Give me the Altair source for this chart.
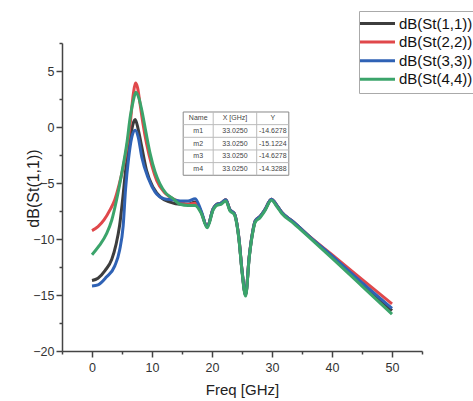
import altair as alt
import pandas as pd

# ---------------- data ----------------
series_names = ["dB(St(1,1))", "dB(St(2,2))", "dB(St(3,3))", "dB(St(4,4))"]
series_colors = ["#3d3d3d", "#e0484b", "#2f62b5", "#3ba46b"]

s11_x = [0.0, 1.0, 2.2, 3.3, 4.0, 4.6, 5.1, 5.6, 6.3, 6.8, 7.2, 7.7, 8.3, 9.1, 10.2, 11.5, 13.0, 14.7,
         16.0, 17.2, 18.2, 19.2, 20.2, 20.8, 21.5, 22.3, 23.0, 23.7, 24.5, 25.0, 25.6, 26.2, 26.8, 27.2,
         28.0, 28.8, 29.9, 30.8, 31.6, 33.6, 36.3, 40.0, 45.0, 50.0]
s11_y = [-13.7, -13.5, -12.8, -11.8, -10.5, -8.8, -6.5, -3.9, -1.3, 0.2, 0.66, -0.2, -1.8, -3.9, -5.4, -6.3, -6.7, -6.9,
         -6.9, -6.7, -7.6, -8.9, -7.3, -6.9, -6.8, -6.5, -7.4, -7.7, -10.0, -12.8, -15.0, -11.6, -9.3, -8.4,
         -8.0, -7.4, -6.45, -7.0, -7.6, -8.5, -9.8, -11.6, -14.0, -16.4]

s22_x = [0.0, 1.0, 2.0, 3.0, 3.8, 4.5, 5.2, 5.8, 6.3, 6.9, 7.25, 7.6, 8.0, 8.5, 9.1, 10.0, 10.8, 12.0, 13.0, 14.7,
         16.0, 17.2, 18.2, 19.2, 20.2, 20.8, 21.5, 22.3, 23.0, 23.7, 24.5, 25.0, 25.6, 26.2, 26.8, 27.2,
         28.0, 28.8, 29.9, 30.8, 31.6, 33.6, 36.3, 40.0, 45.0, 50.0]
s22_y = [-9.25, -8.9, -8.3, -7.4, -6.5, -5.2, -3.6, -1.8, 0.0, 3.0, 3.93, 3.5, 2.1, 0.3, -1.5, -3.5, -4.8, -5.8, -6.25, -6.7,
         -6.9, -6.8, -7.6, -8.9, -7.3, -6.9, -6.8, -6.5, -7.4, -7.7, -10.0, -12.8, -15.0, -11.6, -9.3, -8.4,
         -8.0, -7.4, -6.45, -7.0, -7.6, -8.5, -9.8, -11.4, -13.6, -15.8]

s33_x = [0.0, 1.0, 2.4, 3.8, 4.6, 5.2, 5.6, 6.1, 6.6, 7.2, 7.7, 8.3, 9.4, 10.5, 12.0, 13.5, 14.7,
         16.0, 17.2, 18.2, 19.2, 20.2, 20.8, 21.5, 22.3, 23.0, 23.7, 24.5, 25.0, 25.6, 26.2, 26.8, 27.2,
         28.0, 28.8, 29.9, 30.8, 31.6, 33.6, 36.3, 40.0, 45.0, 50.0]
s33_y = [-14.2, -14.1, -13.4, -12.4, -11.0, -8.8, -5.5, -2.8, -1.0, -0.3, -0.9, -2.7, -4.6, -5.8, -6.4, -6.5, -6.6,
         -6.6, -6.4, -7.5, -8.9, -7.3, -6.9, -6.8, -6.5, -7.4, -7.7, -10.0, -12.8, -15.0, -11.6, -9.3, -8.4,
         -8.0, -7.4, -6.45, -7.0, -7.6, -8.5, -9.8, -11.5, -13.9, -16.2]

s44_x = [0.0, 1.2, 2.45, 3.3, 4.1, 5.0, 5.8, 6.4, 6.9, 7.3, 7.8, 8.3, 9.0, 9.7, 10.5, 11.3, 12.3, 13.5, 14.7,
         16.0, 17.2, 18.2, 19.2, 20.2, 20.8, 21.5, 22.3, 23.0, 23.7, 24.5, 25.0, 25.6, 26.2, 26.8, 27.2,
         28.0, 28.8, 29.9, 30.8, 31.6, 33.6, 36.3, 40.0, 45.0, 50.0]
s44_y = [-11.4, -10.6, -9.5, -8.3, -6.5, -4.0, -1.5, 1.0, 2.4, 3.1, 2.6, 1.5, -0.5, -2.4, -4.0, -5.05, -5.9, -6.4, -6.9,
         -7.0, -7.0, -7.7, -9.0, -7.4, -7.0, -6.9, -6.6, -7.5, -7.8, -10.1, -12.9, -15.1, -11.7, -9.4, -8.5,
         -8.1, -7.5, -6.55, -7.1, -7.7, -8.6, -9.9, -11.7, -14.2, -16.7]

tbl_header = ["Name", "X [GHz]", "Y"]
tbl_name = ["m1", "m2", "m3", "m4"]
tbl_xval = ["33.0250", "33.0250", "33.0250", "33.0250"]
tbl_yval = ["-14.6278", "-15.1224", "-14.6278", "-14.3288"]

x_major = [0, 10, 20, 30, 40, 50]
x_minor = [-5, 5, 15, 25, 35, 45, 55]
y_major = [-20, -15, -10, -5, 0, 5]
y_minor = [-17.5, -12.5, -7.5, -2.5, 2.5, 7.5]

# ---------------- build tables ----------------
rows = []
for name, xs, ys in zip(series_names, [s11_x, s22_x, s33_x, s44_x], [s11_y, s22_y, s33_y, s44_y]):
    for i, (xv, yv) in enumerate(zip(xs, ys)):
        rows.append({"series": name, "freq": xv, "db": yv, "order": i})
df = pd.DataFrame(rows)

XDOM = [-5, 55]
YDOM = [-20, 7.5]
FONT = "Liberation Sans"
AX = "#444"

# table layout (data units)
TX = [15.2, 20.2, 27.45, 32.8]
TTOP = 1.34
TROW = 1.13
nrows = 1 + len(tbl_name)
TBOT = TTOP - nrows * TROW

cells = []
table_rows = [tbl_header] + [[a, b, c] for a, b, c in zip(tbl_name, tbl_xval, tbl_yval)]
for r, vals in enumerate(table_rows):
    for c, v in enumerate(vals):
        cells.append({"freq": (TX[c] + TX[c + 1]) / 2, "db": TTOP - (r + 0.5) * TROW, "txt": v})
cells_df = pd.DataFrame(cells)
box_df = pd.DataFrame([{"freq": TX[0], "x2": TX[-1], "db": TTOP, "y2": TBOT}])
hl_df = pd.DataFrame([{"freq": TX[0], "x2": TX[-1], "db": TTOP - k * TROW} for k in range(1, nrows)])
vl_df = pd.DataFrame([{"freq": xv, "db": TTOP, "y2": TBOT} for xv in TX[1:-1]])

xs_ = alt.Scale(domain=XDOM, nice=False, zero=False)
ys_ = alt.Scale(domain=YDOM, nice=False, zero=False)

x_axis = alt.Axis(
    values=x_major, tickSize=6, labelOverlap=False, labelFlush=False,
    grid=False, domainColor=AX, domainWidth=1.5, tickColor=AX, tickWidth=1.5,
    labelFontSize=12.5, labelColor="#333", labelFont=FONT, labelPadding=4,
    title="Freq [GHz]", titleFontSize=15, titleFont=FONT, titleFontWeight="normal",
    titleColor="#222", titlePadding=9,
)
y_axis = alt.Axis(
    values=y_major, tickSize=6, labelOverlap=False, labelFlush=False,
    grid=False, domainColor=AX, domainWidth=1.5, tickColor=AX, tickWidth=1.5,
    labelFontSize=12.5, labelColor="#333", labelFont=FONT, labelPadding=2,
    title="dB(St(1,1))", titleFontSize=16, titleFont=FONT, titleFontWeight="normal",
    titleColor="#222", titleX=-29, titleY=145, titleAngle=-90, titleAlign="center",
    titleBaseline="middle",
)
x_minor_axis = alt.Axis(values=x_minor, tickSize=3, labels=False, domain=False, grid=False,
                        tickColor=AX, tickWidth=1.5, title=None, orient="bottom")
y_minor_axis = alt.Axis(values=y_minor, tickSize=3, labels=False, domain=False, grid=False,
                        tickColor=AX, tickWidth=1.5, title=None, orient="left")

lines = alt.Chart(df).mark_line(strokeWidth=3, interpolate="monotone").encode(
    x=alt.X("freq:Q", scale=xs_, axis=x_axis),
    y=alt.Y("db:Q", scale=ys_, axis=y_axis),
    color=alt.Color(
        "series:N",
        scale=alt.Scale(domain=series_names, range=series_colors),
        legend=alt.Legend(
            title=None, orient="none", legendX=297, legendY=-32,
            symbolType="M-3.5,0H3.5", symbolSize=100, symbolStrokeWidth=3,
            labelFontSize=15, labelFont=FONT, labelColor="#111",
            strokeColor="#aaaaaa", fillColor="white", padding=5,
            rowPadding=2.6, labelOffset=14, symbolOffset=6,
        ),
    ),
    order="order:Q",
)

minor = alt.Chart(box_df).mark_point(opacity=0).encode(
    x=alt.X("freq:Q", scale=xs_, axis=x_minor_axis),
    y=alt.Y("db:Q", scale=ys_, axis=y_minor_axis),
)

box = alt.Chart(box_df).mark_rect(fill="white", stroke="#888", strokeWidth=1).encode(
    x=alt.X("freq:Q", scale=xs_, axis=None), x2="x2:Q",
    y=alt.Y("db:Q", scale=ys_, axis=None), y2="y2:Q",
)
hl = alt.Chart(hl_df).mark_rule(color="#bbb", strokeWidth=1).encode(
    x=alt.X("freq:Q", scale=xs_, axis=None), x2="x2:Q",
    y=alt.Y("db:Q", scale=ys_, axis=None),
)
vl = alt.Chart(vl_df).mark_rule(color="#bbb", strokeWidth=1).encode(
    x=alt.X("freq:Q", scale=xs_, axis=None),
    y=alt.Y("db:Q", scale=ys_, axis=None), y2="y2:Q",
)
txt = alt.Chart(cells_df).mark_text(font=FONT, fontSize=7, color="#444", baseline="middle", align="center").encode(
    x=alt.X("freq:Q", scale=xs_, axis=None),
    y=alt.Y("db:Q", scale=ys_, axis=None),
    text="txt:N",
)

chart = alt.layer(lines, minor, box, hl, vl, txt).resolve_axis(
    x="independent", y="independent"
).properties(
    width=360, height=308,
    padding={"left": 62, "top": 43, "right": 51, "bottom": 50},
    autosize=alt.AutoSizeParams(type="none"),
    background="white",
).configure_view(stroke=None)

chart.save("out.html", embed_options={"renderer": "svg", "actions": False})
